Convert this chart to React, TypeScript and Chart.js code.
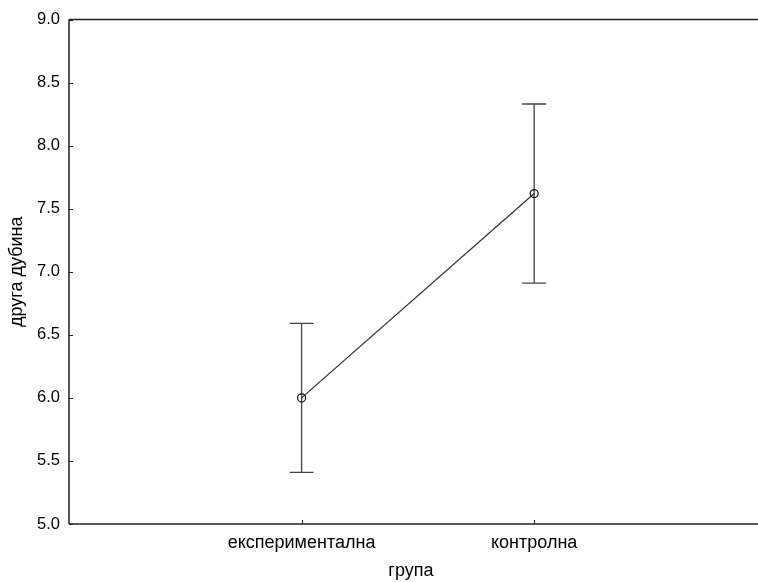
import React, { useEffect, useRef } from "react";
import { Chart, registerables } from "chart.js";

Chart.register(...registerables);

const categories = ["експериментална", "контролна"];
const means = [6.0, 7.62];
const lowerBounds = [5.41, 6.91];
const upperBounds = [6.59, 8.33];
const yMin = 5.0;
const yMax = 9.0;
const yStep = 0.5;
const xAxisTitle = "група";
const yAxisTitle = "друга дубина";

const FONT = "'Liberation Sans', Arial, sans-serif";

const framePlugin = {
  id: "frame",
  beforeDatasetsDraw(chart: any) {
    const ctx = chart.ctx;
    const xs = chart.scales.x;
    const ys = chart.scales.y;
    ctx.save();
    ctx.strokeStyle = "#444";
    ctx.lineWidth = 1.3;
    for (let i = 0; i < categories.length; i++) {
      const px = xs.getPixelForValue(i + 1);
      const top = ys.getPixelForValue(upperBounds[i]);
      const bot = ys.getPixelForValue(lowerBounds[i]);
      ctx.beginPath();
      ctx.moveTo(px, top);
      ctx.lineTo(px, bot);
      ctx.moveTo(px - 12, top);
      ctx.lineTo(px + 12, top);
      ctx.moveTo(px - 12, bot);
      ctx.lineTo(px + 12, bot);
      ctx.stroke();
    }
    ctx.restore();
  },
  afterDraw(chart: any) {
    const ctx = chart.ctx;
    const a = chart.chartArea;
    const xs = chart.scales.x;
    const ys = chart.scales.y;
    ctx.save();
    ctx.strokeStyle = "#222";
    ctx.lineWidth = 1.5;
    ctx.beginPath();
    ctx.moveTo(a.left, a.top);
    ctx.lineTo(chart.width, a.top);
    ctx.moveTo(a.left, a.bottom);
    ctx.lineTo(chart.width, a.bottom);
    ctx.moveTo(a.left, a.top);
    ctx.lineTo(a.left, a.bottom);
    ctx.stroke();
    ctx.lineWidth = 1;
    ctx.beginPath();
    for (let v = yMin; v <= yMax + 1e-9; v += yStep) {
      const py = Math.round(ys.getPixelForValue(v)) + 0.5;
      ctx.moveTo(a.left, py);
      ctx.lineTo(a.left + 4, py);
    }
    for (let i = 0; i < categories.length; i++) {
      const px = Math.round(xs.getPixelForValue(i + 1)) + 0.5;
      ctx.moveTo(px, a.bottom);
      ctx.lineTo(px, a.bottom - 4);
    }
    ctx.stroke();
    ctx.restore();
  },
};

export default function App() {
  const ref = useRef<HTMLCanvasElement | null>(null);
  useEffect(() => {
    if (!ref.current) return;
    const chart = new Chart(ref.current, {
      type: "line",
      data: {
        datasets: [
          {
            data: means.map((m, i) => ({ x: i + 1, y: m })),
            borderColor: "#333",
            borderWidth: 1.3,
            pointRadius: 4,
            pointBorderColor: "#111",
            pointBackgroundColor: "rgba(255,255,255,0)",
            pointBorderWidth: 1.2,
            tension: 0,
            fill: false,
          },
        ],
      },
      options: {
        animation: false,
        responsive: true,
        maintainAspectRatio: false,
        layout: { padding: { top: 19.5, right: 0, left: 0, bottom: 0 } },
        plugins: { legend: { display: false }, tooltip: { enabled: false } },
        scales: {
          x: {
            type: "linear",
            min: 0,
            max: 2.94,
            grid: { display: false, drawTicks: false },
            border: { display: false },
            afterBuildTicks: (s: any) => {
              s.ticks = categories.map((_, i) => ({ value: i + 1 }));
            },
            afterFit: (s: any) => {
              s.height = 58;
            },
            ticks: {
              padding: 8,
              color: "#000",
              font: { family: FONT, size: 18 },
              maxRotation: 0,
              autoSkip: false,
              callback: (v: any) => categories[Math.round(v) - 1] ?? "",
            },
            title: {
              display: true,
              text: xAxisTitle,
              color: "#000",
              font: { family: FONT, size: 18 },
              padding: { top: -3, bottom: 0 },
            },
          },
          y: {
            min: yMin,
            max: yMax,
            grid: { display: false, drawTicks: false },
            border: { display: false },
            afterFit: (s: any) => {
              s.width = 69;
            },
            ticks: {
              stepSize: yStep,
              padding: 9,
              color: "#000",
              font: { family: FONT, size: 16.5 },
              callback: (v: any) => Number(v).toFixed(1),
            },
            title: {
              display: true,
              text: yAxisTitle,
              color: "#000",
              font: { family: FONT, size: 18 },
              padding: { top: 6, bottom: 0 },
            },
          },
        },
      },
      plugins: [framePlugin],
    });
    return () => chart.destroy();
  }, []);
  return (
    <div style={{ position: "fixed", left: 0, top: 0, width: 758, height: 582, background: "#fff" }}>
      <canvas ref={ref} />
    </div>
  );
}
